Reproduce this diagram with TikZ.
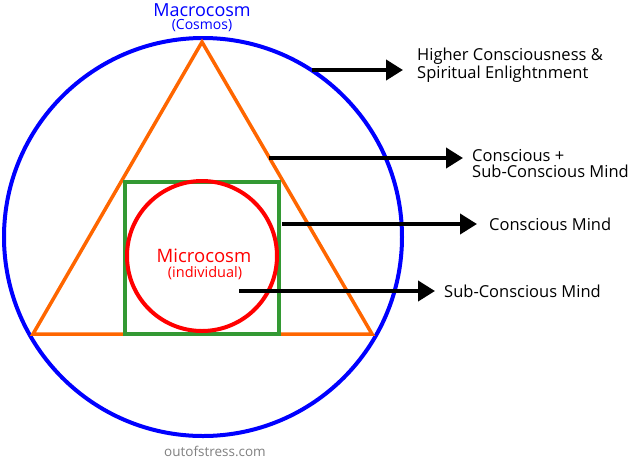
\documentclass[tikz,border=0pt]{standalone}
\usepackage{fontspec}
\setmainfont{Open Sans}
\usetikzlibrary{arrows.meta}
\definecolor{cosmosblue}{RGB}{0,0,255}
\definecolor{triorange}{RGB}{255,102,0}
\definecolor{boxgreen}{RGB}{51,153,51}
\definecolor{selfred}{RGB}{255,0,0}
\definecolor{markgray}{RGB}{128,128,128}

\tikzset{
    levelarrow/.style={line width=4pt, -{Triangle[length=17pt, width=20pt]}},
    levellabel/.style={anchor=west, align=left, inner sep=0pt, font=\fontsize{16.5}{16}\selectfont},
    titletext/.style={inner sep=0pt}
}

\begin{document}
\begin{tikzpicture}[x=1pt, y=-1pt]
        \useasboundingbox (0, 0) rectangle (632, 459);

        \draw[cosmosblue, line width=4pt] (203, 237) circle[radius=199pt];
        \draw[triorange, line width=3.5pt, line join=miter] (202, 42) -- (33, 334) -- (372, 334) -- cycle;
        \draw[boxgreen, line width=4pt] (125, 182) rectangle (279, 334);
        \draw[selfred, line width=4pt] (202, 256) circle[radius=75pt];

        \node[titletext, cosmosblue, font=\fontsize{18}{18}\selectfont] (macro) at (202, 10) {Macrocosm};
        \node[titletext, cosmosblue, font=\fontsize{14}{14}\selectfont] (cosmos) at (202, 26) {(Cosmos)};
        \node[titletext, selfred, font=\fontsize{18.5}{18.5}\selectfont] (micro) at (204, 256) {Microcosm};
        \node[titletext, selfred, font=\fontsize{14.5}{14.5}\selectfont] (indiv) at (205, 273) {(individual)};
        \node[titletext, markgray, font=\fontsize{13.5}{13.5}\selectfont] (site) at (215, 451) {outofstress.com};

        \coordinate (from1) at (312, 70);
        \coordinate (from2) at (269, 158);
        \coordinate (from3) at (282, 224);
        \coordinate (from4) at (239, 291);

        \node[levellabel] (higher) at (417, 65) {Higher Consciousness \&\\Spiritual Enlightnment};
        \node[levellabel] (both) at (472, 164) {Conscious +\\Sub-Conscious Mind};
        \node[levellabel] (conscious) at (489, 224) {Conscious Mind};
        \node[levellabel] (sub) at (444, 291) {Sub-Conscious Mind};

        \draw[levelarrow] (from1) -- (403, 70);
        \draw[levelarrow] (from2) -- (463, 158);
        \draw[levelarrow] (from3) -- (477, 224);
        \draw[levelarrow] (from4) -- (435, 291);

    \end{tikzpicture}
\end{document}
